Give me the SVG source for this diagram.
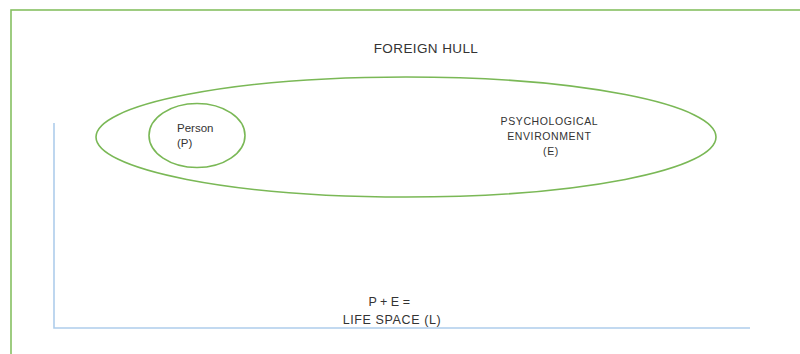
<svg xmlns="http://www.w3.org/2000/svg" width="800" height="354" viewBox="0 0 800 354">
  <style>
    .hull { fill: none; stroke: #86c062; stroke-width: 1.6; }
    .axis { fill: none; stroke: #aecdec; stroke-width: 1.6; }
    .shape { fill: none; stroke: #7ab856; stroke-width: 1.6; }
    text { font-family: "Liberation Sans", Arial, sans-serif; fill: #333333; }
  </style>
  <rect width="800" height="354" fill="#ffffff"/>
  <g id="foreign-hull">
    <rect class="hull" x="11" y="10" width="800" height="360"/>
    <text x="426" y="53" font-size="13.5" text-anchor="middle" letter-spacing="0.4">FOREIGN HULL</text>
  </g>
  <g id="life-space-axes">
    <polyline class="axis" points="54,123 54,328 750,328"/>
  </g>
  <g id="environment">
    <ellipse class="shape" cx="406" cy="137" rx="310" ry="60"/>
    <text font-size="10.5" text-anchor="middle" letter-spacing="0.6">
      <tspan x="551" y="125">PSYCHOLOGICAL</tspan>
      <tspan x="551" y="140">ENVIRONMENT</tspan>
      <tspan x="551" y="155">(E)</tspan>
    </text>
  </g>
  <g id="person">
    <ellipse class="shape" cx="197" cy="135.5" rx="48" ry="32"/>
    <text font-size="11.5">
      <tspan x="177" y="132">Person</tspan>
      <tspan x="177" y="147">(P)</tspan>
    </text>
  </g>
  <g id="formula">
    <text font-size="12.5" text-anchor="middle">
      <tspan x="391" y="306">P + E =</tspan>
      <tspan x="392" y="324" letter-spacing="0.6">LIFE SPACE (L)</tspan>
    </text>
  </g>
</svg>
